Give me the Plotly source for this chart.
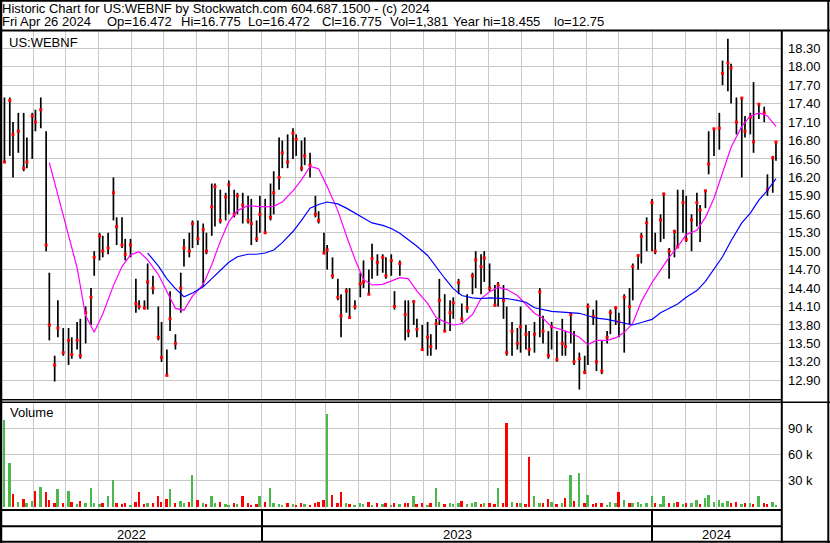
import pandas as pd
import plotly.graph_objects as go

# ---------------- data ----------------
# one bar every 3rd business day, ending Fri Apr 26 2024
low = [
    16.45, 16.55, 16.2, 16.6, 16.3, 16.35, 16.5, 16.95, 17.0, 15.0,
    13.55, 12.88, 13.6, 13.3, 13.15, 13.25, 13.4, 13.25, 13.5, 13.8,
    14.6, 14.85, 14.9, 14.95, 15.5, 15.1, 15.05, 14.85, 14.9, 14.0,
    14.05, 14.05, 14.05, 14.3, 13.55, 13.2, 12.98, 13.7, 13.4, 14.0,
    14.75, 14.9, 15.05, 15.1, 14.42, 14.95, 15.25, 15.4, 15.45, 15.5,
    15.6, 15.55, 15.6, 15.45, 15.45, 15.1, 15.15, 15.3, 15.3, 15.5,
    15.6, 16.0, 16.35, 16.35, 16.5, 16.55, 16.3, 16.4, 16.2, 15.55,
    15.45, 14.95, 14.7, 14.55, 14.2, 13.6, 14.0, 13.9, 14.05, 14.25,
    14.4, 14.3, 14.55, 14.6, 14.65, 14.55, 14.6, 14.05, 14.6, 13.55,
    13.6, 13.8, 13.6, 13.4, 13.3, 13.3, 13.4, 13.8, 13.7, 13.7,
    13.9, 14.3, 13.85, 14.0, 14.3, 14.4, 14.3, 14.5, 14.35, 14.1,
    14.1, 13.9, 13.3, 13.3, 13.4, 13.35, 13.4, 13.3, 13.35, 13.6,
    13.5, 13.25, 13.4, 13.2, 13.3, 13.3, 13.5, 13.15, 12.75, 13.0,
    13.15, 13.8, 13.05, 13.0, 13.5, 13.65, 13.8, 13.6, 13.35, 13.8,
    14.2, 14.7, 14.8, 15.0, 15.0, 14.95, 15.15, 15.2, 14.55, 14.9,
    15.05, 15.3, 15.15, 15.0, 15.4, 15.15, 15.7, 16.25, 16.55, 16.65,
    17.7, 17.6, 17.4, 16.9, 16.2, 16.85, 16.9, 16.6, 17.15, 17.1,
    15.9, 15.95, 16.472,
]
high = [
    17.5, 17.5, 17.1, 17.25, 17.25, 16.85, 17.25, 17.3, 17.5, 16.95,
    14.65, 13.3, 14.2, 13.75, 13.75, 13.6, 13.85, 13.9, 14.1, 14.4,
    15.0, 15.3, 15.25, 15.3, 16.2, 15.55, 15.55, 15.2, 15.2, 14.55,
    14.2, 14.2, 14.8, 14.6, 14.1, 13.85, 13.4, 14.35, 13.65, 14.65,
    15.2, 15.3, 15.5, 15.5, 15.45, 15.3, 16.1, 16.1, 16.0, 15.95,
    16.15, 16.0, 15.95, 15.95, 15.9, 15.85, 15.5, 15.9, 15.85, 16.1,
    16.3, 16.85, 16.8, 16.9, 17.0, 16.9, 16.8, 16.85, 16.6, 15.9,
    15.65, 15.3, 15.1, 14.9, 14.55, 14.3, 14.4, 14.4, 14.2, 14.65,
    14.85, 14.7, 15.12, 14.95, 14.95, 14.9, 14.95, 14.35, 14.85, 14.2,
    14.2, 14.2, 13.9, 13.8, 13.85, 13.65, 13.9, 14.55, 14.3, 14.2,
    14.25, 14.55, 14.15, 14.3, 14.65, 15.0, 14.95, 15.0, 14.8, 14.45,
    14.5, 14.45, 14.1, 13.85, 13.75, 14.1, 13.8, 13.7, 13.85, 14.4,
    13.95, 13.7, 13.85, 13.7, 13.9, 13.7, 14.0, 13.7, 13.35, 13.3,
    14.15, 14.05, 14.2, 13.55, 13.7, 14.05, 14.1, 14.0, 14.3, 14.4,
    14.8, 14.95, 15.3, 15.55, 15.85, 15.3, 15.6, 15.95, 15.05, 15.35,
    16.0, 16.0, 15.9, 15.6, 15.95, 15.75, 16.0, 16.95, 17.0, 17.25,
    18.1, 18.455, 18.05, 17.5, 17.5, 17.2, 17.25, 17.75, 17.4, 17.35,
    16.25, 16.55, 16.775,
]
close = [
    16.45, 17.45, 16.9, 16.95, 16.35, 16.45, 17.2, 17.1, 17.3, 15.1,
    13.8, 13.15, 13.75, 13.35, 13.55, 13.32, 13.55, 13.3, 14.0, 14.25,
    14.9, 15.25, 15.0, 15.05, 15.95, 15.4, 15.1, 14.95, 15.1, 14.15,
    14.1, 14.08, 14.5, 14.4, 13.6, 13.27, 12.98, 13.9, 13.5, 14.4,
    15.05, 15.0, 15.45, 15.2, 15.35, 15.0, 15.72, 16.05, 15.5, 15.88,
    16.08, 15.6, 15.9, 15.75, 15.5, 15.45, 15.2, 15.6, 15.3, 15.55,
    15.95, 16.2, 16.6, 16.45, 16.92, 16.82, 16.35, 16.55, 16.4, 15.6,
    15.5, 14.97, 15.02, 14.6, 14.25, 13.95, 14.35, 13.92, 14.1, 14.47,
    14.5, 14.3, 14.88, 14.82, 14.9, 14.6, 14.85, 14.1, 14.8, 13.97,
    13.7, 14.18, 13.73, 13.4, 13.6, 13.45, 13.82, 14.2, 13.7, 14.0,
    14.16, 14.49, 13.9, 14.08, 14.6, 14.86, 14.75, 14.89, 14.4, 14.12,
    14.45, 14.2, 13.35, 13.7, 13.5, 13.77, 13.65, 13.4, 13.65, 14.34,
    13.7, 13.3, 13.77, 13.24, 13.5, 13.45, 13.97, 13.2, 13.25, 13.03,
    14.1, 13.94, 13.2, 13.05, 13.6, 14.0, 14.08, 13.85, 14.25, 14.1,
    14.75, 14.93, 15.24, 15.46, 15.79, 15.0, 15.51, 15.93, 15.0, 15.32,
    15.07, 15.79, 15.19, 15.51, 15.79, 15.67, 15.98, 16.42, 16.99, 17.0,
    17.89, 18.06, 17.98, 17.1, 17.49, 16.95, 17.18, 16.78, 17.39, 17.25,
    16.0, 16.52, 16.775,
]
volume = [
    99000, 50000, 15000, 6000, 9000, 4000, 7000, 18000, 23000, 17000,
    8000, 5000, 21000, 4000, 18000, 6000, 3000, 7000, 4000, 22000,
    5000, 3000, 4000, 12000, 31000, 5000, 3000, 4000, 2000, 6000,
    17000, 3000, 5000, 4000, 12000, 6000, 9000, 20000, 5000, 7000,
    4000, 6000, 36000, 8000, 5000, 3000, 13000, 4000, 6000, 3000,
    2000, 5000, 3000, 12000, 4000, 2000, 3000, 13000, 6000, 22000,
    4000, 3000, 2000, 5000, 3000, 2000, 4000, 3000, 2000, 5000,
    6000, 8000, 106000, 14000, 5000, 17000, 4000, 3000, 2000, 5000,
    3000, 6000, 2000, 4000, 3000, 5000, 2000, 4000, 3000, 5000,
    4000, 12000, 3000, 5000, 2000, 4000, 22000, 6000, 3000, 4000,
    3000, 5000, 7000, 3000, 4000, 6000, 3000, 5000, 4000, 3000,
    22000, 4000, 96000, 6000, 5000, 4000, 3000, 57000, 12000, 5000,
    4000, 9000, 6000, 3000, 5000, 10000, 36000, 7000, 39000, 4000,
    14000, 3000, 5000, 4000, 2000, 6000, 4000, 17000, 8000, 5000,
    4000, 6000, 3000, 5000, 13000, 4000, 3000, 13000, 5000, 4000,
    6000, 3000, 5000, 4000, 8000, 3000, 10000, 14000, 6000, 8000,
    5000, 7000, 4000, 6000, 3000, 5000, 4000, 3000, 12000, 4000,
    3000, 6000, 1381,
]
# moving averages, read at every second bar (pink from bar 10, blue from bar 32)
ma_short = [
    16.44, 15.91, 15.22, 14.73, 13.95, 13.68, 13.98, 14.44, 14.75, 14.94,
    14.99, 14.86, 14.62, 14.34, 14.07, 14.04, 14.27, 14.46, 14.78, 15.16,
    15.48, 15.66, 15.74, 15.73, 15.72, 15.73, 15.8, 15.98, 16.16, 16.38,
    16.34, 16.05, 15.66, 15.25, 14.87, 14.54, 14.45, 14.46, 14.51, 14.57,
    14.55, 14.35, 14.15, 13.92, 13.85, 13.8, 13.82, 13.97, 14.23, 14.34,
    14.41, 14.38, 14.28, 14.14, 13.99, 13.91, 13.77, 13.72, 13.67, 13.6,
    13.48, 13.55, 13.55, 13.59, 13.68, 13.83, 14.18, 14.49, 14.7, 14.9,
    15.07, 15.27, 15.34, 15.55, 15.86, 16.27, 16.69, 17.03, 17.2, 17.25,
    17.2, 17.03,
]
ma_long = [
    14.97, 14.76, 14.55, 14.39, 14.26, 14.32, 14.42, 14.55, 14.68, 14.82,
    14.91, 14.95, 14.95, 14.97, 15.02, 15.14, 15.32, 15.5, 15.7, 15.76,
    15.8, 15.77, 15.7, 15.62, 15.53, 15.46, 15.42, 15.37, 15.29, 15.19,
    15.08, 14.93, 14.74, 14.56, 14.39, 14.28, 14.24, 14.23, 14.24, 14.24,
    14.23, 14.2, 14.17, 14.08, 14.05, 14.02, 14.01, 14.0, 13.99, 13.95,
    13.91, 13.89, 13.86, 13.83, 13.8, 13.84, 13.89, 14.0, 14.07, 14.14,
    14.25, 14.36, 14.51, 14.71, 14.91, 15.17, 15.46, 15.62, 15.83, 15.99,
    16.18,
]
price_tick_labels = ["12.90", "13.20", "13.50", "13.80", "14.10", "14.40", "14.70",
                     "15.00", "15.30", "15.60", "15.90", "16.20", "16.50", "16.80",
                     "17.10", "17.40", "17.70", "18.00", "18.30"]
volume_tick_values = [30000, 60000, 90000]
volume_tick_labels = ["30 k", "60 k", "90 k"]
years = [2022, 2023, 2024]

title_line = "Historic Chart for US:WEBNF by Stockwatch.com 604.687.1500 - (c) 2024"
info_fields = ["Fri Apr 26 2024", "Op=16.472", "Hi=16.775", "Lo=16.472",
               "Cl=16.775", "Vol=1,381", "Year hi=18.455", "lo=12.75"]

# ---------------- build ----------------
N = min(len(low), len(high), len(close), len(volume))
all_days = pd.bdate_range(end="2024-04-26", periods=3 * (N - 1) + 1)
dates = list(all_days[::3])
short_dates = dates[10::2][:len(ma_short)]
long_dates = dates[32::2][:len(ma_long)]

W, H = 830, 543
def fx(x):
    return x / W
def fy(y):
    return 1 - y / H

FONT = "Liberation Sans, Arial, sans-serif"
GRID = "#c8c8c8"
x_start = pd.Timestamp("2022-05-02 17:00")
x_end = pd.Timestamp("2024-04-30 17:00")

fig = go.Figure()

seg_x, seg_y = [], []
for d, lo, hi in zip(dates[:N], low[:N], high[:N]):
    seg_x += [d, d, None]
    seg_y += [lo, hi, None]
fig.add_trace(go.Scatter(x=seg_x, y=seg_y, mode="lines", line=dict(color="black", width=1.7),
                         hoverinfo="skip", showlegend=False, xaxis="x", yaxis="y"))
fig.add_trace(go.Scatter(x=dates[:N], y=close[:N], mode="markers",
                         marker=dict(symbol="square", size=3, color="#ff0000", line=dict(width=0)),
                         showlegend=False, xaxis="x", yaxis="y"))
fig.add_trace(go.Scatter(x=short_dates, y=ma_short, mode="lines",
                         line=dict(color="#ff00ff", width=1.2), showlegend=False,
                         xaxis="x", yaxis="y"))
fig.add_trace(go.Scatter(x=long_dates, y=ma_long, mode="lines",
                         line=dict(color="#0000ff", width=1.2), showlegend=False,
                         xaxis="x", yaxis="y"))

colors = []
prev = None
for c in close[:N]:
    if prev is None or c > prev:
        colors.append("#4cb84c")
    elif c < prev:
        colors.append("#ff0000")
    else:
        colors.append("#a0a0a0")
    prev = c
fig.add_trace(go.Bar(x=dates[:N], y=volume[:N], marker=dict(color=colors, line=dict(width=0)),
                     width=1.8 * 86400000, showlegend=False, xaxis="x2", yaxis="y2"))

xcommon = dict(type="date", range=[x_start, x_end], showticklabels=False, showgrid=True,
               gridcolor=GRID, gridwidth=1, tick0="2022-01-01", dtick="M1", ticks="",
               zeroline=False, showline=False, domain=[fx(2), fx(781)])
price_vals = [float(t) for t in price_tick_labels]

fig.update_layout(
    width=W, height=H, autosize=False,
    margin=dict(l=0, r=0, t=0, b=0, pad=0),
    paper_bgcolor="white", plot_bgcolor="white",
    font=dict(family=FONT, size=13, color="black"),
    bargap=0,
    xaxis=dict(**xcommon, anchor="y"),
    xaxis2=dict(**xcommon, anchor="y2", matches="x"),
    yaxis=dict(domain=[fy(399), fy(31)], range=[12.596, 18.581], side="right",
               tickmode="array", tickvals=price_vals, ticktext=price_tick_labels,
               showgrid=True, gridcolor=GRID, gridwidth=1, ticks="", zeroline=False,
               showline=False, anchor="x", ticklabelstandoff=6,
               tickfont=dict(family=FONT, size=13, color="black")),
    yaxis2=dict(domain=[fy(510), fy(402)], range=[-3500, 120000], side="right",
                tickmode="array", tickvals=volume_tick_values, ticktext=volume_tick_labels,
                showgrid=True, gridcolor=GRID, gridwidth=1, ticks="", zeroline=False,
                showline=False, anchor="x2", ticklabelstandoff=6,
                tickfont=dict(family=FONT, size=13, color="black")),
)

# frame lines (pixel positions)
def hline(y, x0=0, x1=W, w=2):
    return dict(type="line", xref="paper", yref="paper", x0=fx(x0), x1=fx(x1),
                y0=fy(y), y1=fy(y), line=dict(color="black", width=w), layer="above")
def vline(x, y0=0, y1=H, w=2):
    return dict(type="line", xref="paper", yref="paper", x0=fx(x), x1=fx(x),
                y0=fy(y0), y1=fy(y1), line=dict(color="black", width=w), layer="above")

shapes = [
    hline(0.8), hline(541.7), vline(1.0, w=2.5), vline(828.3),
    hline(30.5),
    vline(781.8, 30.5, H),
    hline(399.8, 0, 781.8, w=1.5), hline(402.2, 0, W, w=1.5),
    hline(510, 0, 781.8), hline(526.3, 0, 781.8),
]
for yr in years[1:]:
    shapes.append(dict(type="line", xref="x", yref="paper", x0=pd.Timestamp(f"{yr}-01-01"),
                       x1=pd.Timestamp(f"{yr}-01-01"), y0=fy(541), y1=fy(510),
                       line=dict(color="black", width=2), layer="above"))
fig.update_layout(shapes=shapes)

ann = []
ann.append(dict(text=title_line, x=fx(1), y=fy(8.5), xref="paper", yref="paper",
                xanchor="left", yanchor="middle", showarrow=False, borderpad=0,
                font=dict(family=FONT, size=13, color="black")))
info_x = [1, 106, 180, 247, 321, 389, 452, 553]
for t, xx in zip(info_fields, info_x):
    ann.append(dict(text=t, x=fx(xx), y=fy(21), xref="paper", yref="paper",
                    xanchor="left", yanchor="middle", showarrow=False, borderpad=0,
                    font=dict(family=FONT, size=13, color="black")))
ann.append(dict(text="US:WEBNF", x=fx(7), y=fy(42), xref="paper", yref="paper",
                xanchor="left", yanchor="middle", showarrow=False,
                font=dict(family=FONT, size=13, color="black")))
ann.append(dict(text="Volume", x=fx(8), y=fy(413), xref="paper", yref="paper",
                xanchor="left", yanchor="middle", showarrow=False,
                font=dict(family=FONT, size=13, color="black")))
for yr in years:
    a = max(x_start, pd.Timestamp(f"{yr}-01-01"))
    b = min(x_end, pd.Timestamp(f"{yr + 1}-01-01"))
    mid = a + (b - a) / 2
    ann.append(dict(text=str(yr), x=mid, y=fy(534), xref="x", yref="paper",
                    xanchor="center", yanchor="middle", showarrow=False,
                    font=dict(family=FONT, size=13, color="black")))
fig.update_layout(annotations=ann)

fig.write_html("out.html", config={"displayModeBar": False},
               post_script="document.body.style.margin='0px';document.body.style.padding='0px';")
